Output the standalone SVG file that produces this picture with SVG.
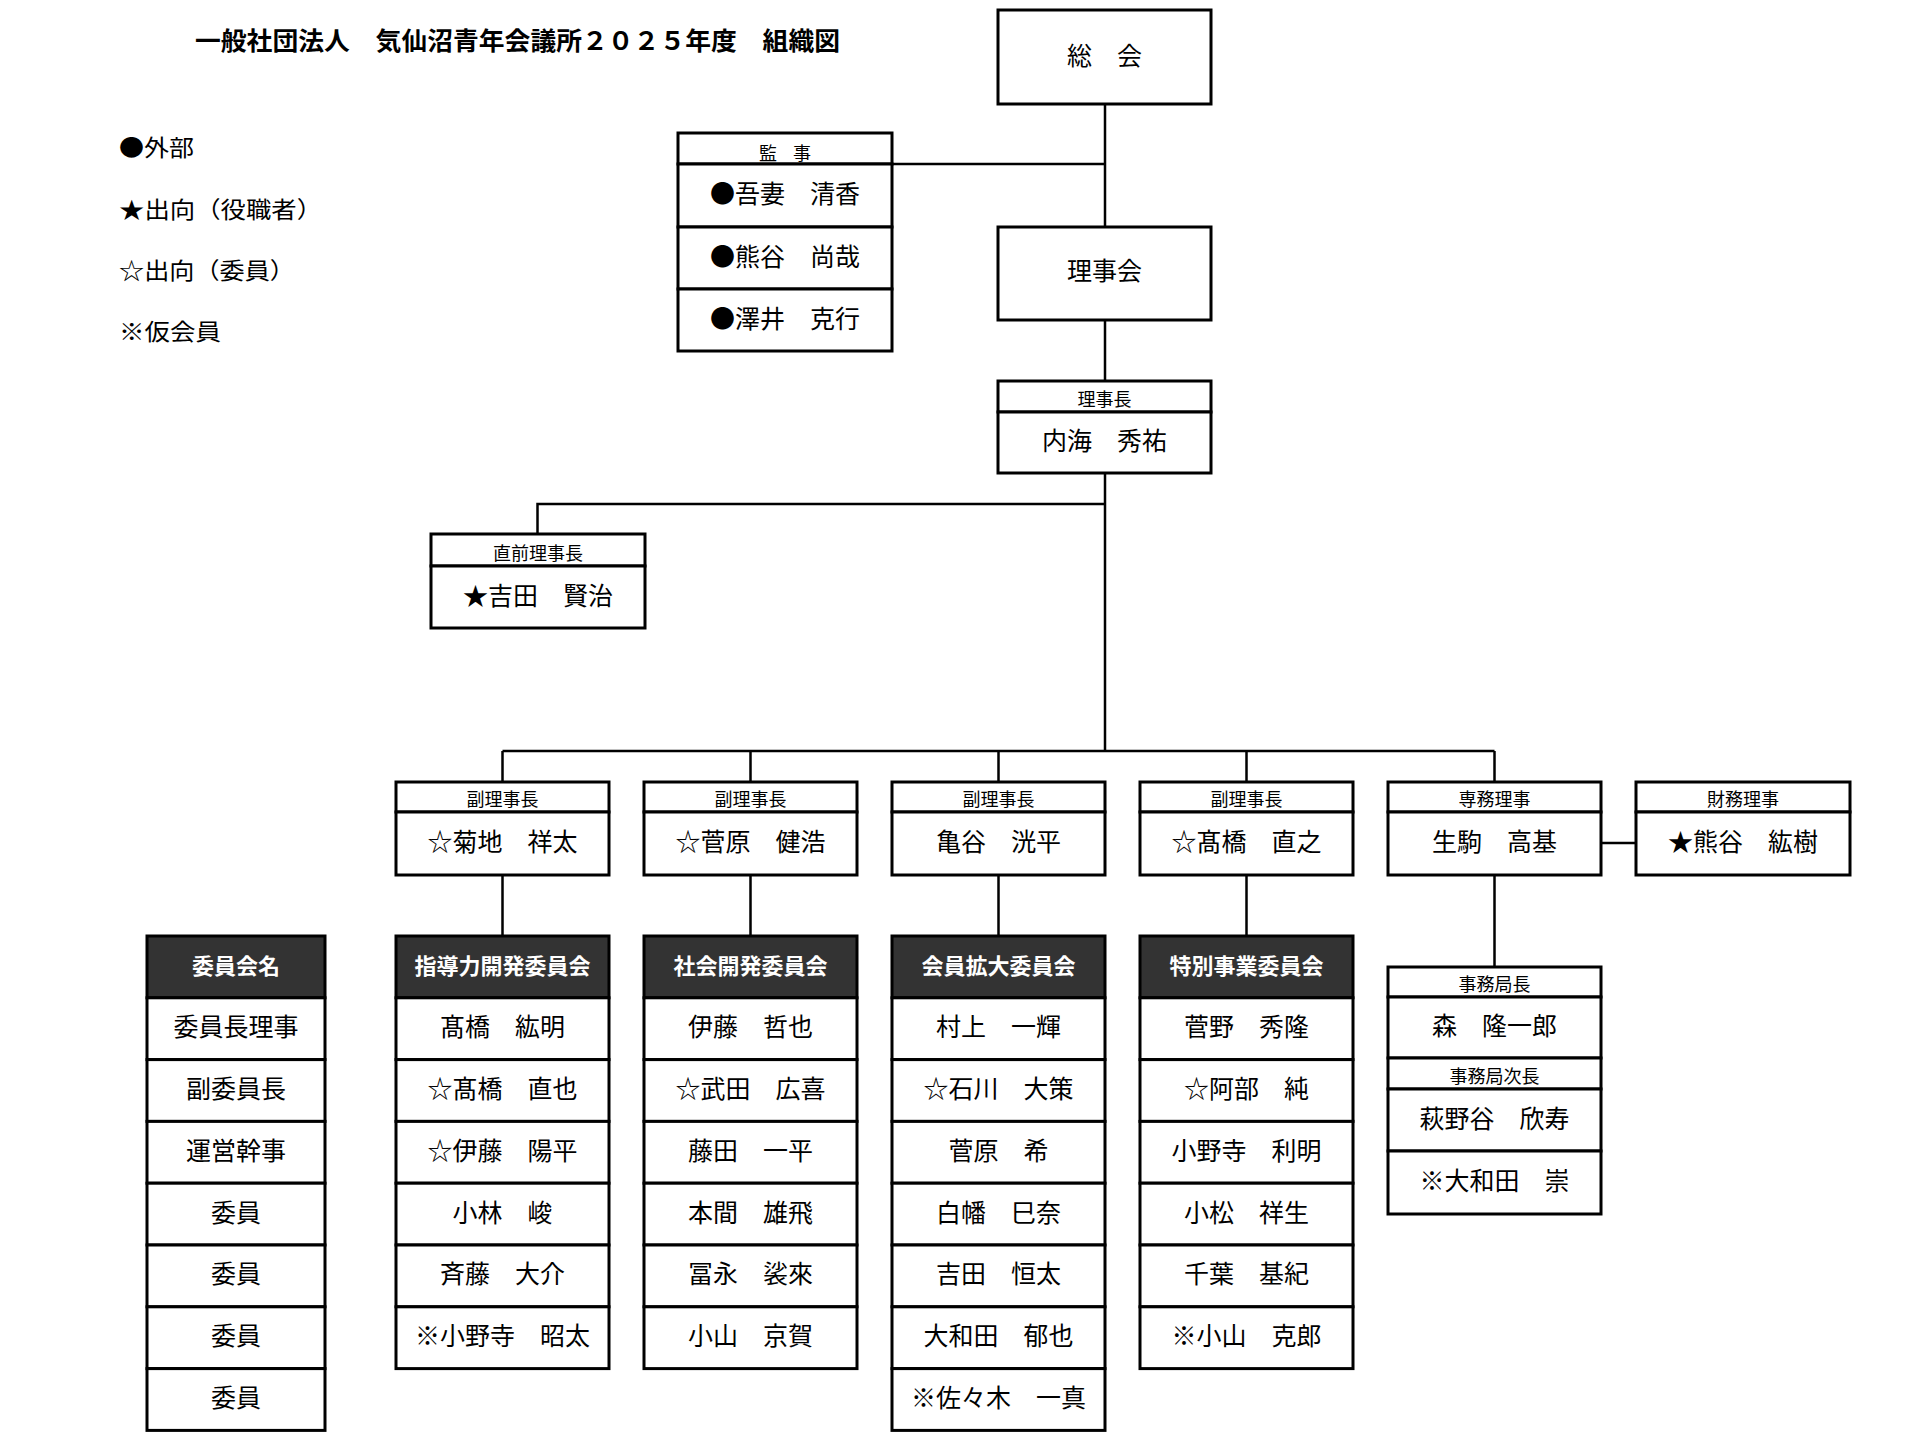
<svg xmlns="http://www.w3.org/2000/svg" width="1920" height="1440" viewBox="0 0 1920 1440">
<style>
text{font-family:"Noto Sans CJK JP","Noto Sans CJK SC",sans-serif;fill:#000}
.box{fill:#fff;stroke:#000;stroke-width:3}
.hd{fill:#333;stroke:#000;stroke-width:3}
.ln{fill:none;stroke:#000;stroke-width:2.5}
.nm{font-size:25px;text-anchor:middle;dominant-baseline:central}
.lb{font-size:18px;text-anchor:middle;dominant-baseline:central}
.ht{font-size:22px;font-weight:bold;text-anchor:middle;dominant-baseline:central;fill:#fff}
.lg{font-size:23px;dominant-baseline:central}
.tt{font-size:25px;font-weight:bold;dominant-baseline:central}
</style>
<rect width="1920" height="1440" fill="#fff"/>

<g id="title"><text class="tt" x="195" y="38.5" textLength="645" lengthAdjust="spacingAndGlyphs">一般社団法人　気仙沼青年会議所２０２５年度　組織図</text></g>
<g id="legend">
<text class="lg" x="119" y="146" textLength="75" lengthAdjust="spacingAndGlyphs">●外部</text>
<text class="lg" x="119" y="208" textLength="203" lengthAdjust="spacingAndGlyphs">★出向（役職者）</text>
<text class="lg" x="119" y="269" textLength="176" lengthAdjust="spacingAndGlyphs">☆出向（委員）</text>
<text class="lg" x="119" y="330" textLength="102" lengthAdjust="spacingAndGlyphs">※仮会員</text>
</g>

<g id="connectors">
<path class="ln" d="M1105 104V751"/>
<path class="ln" d="M892 164H1105"/>
<path class="ln" d="M1105 504H537.5V534"/>
<path class="ln" d="M502.5 751H1494.5"/>
<path class="ln" d="M502.5 751V782M750.5 751V782M998.5 751V782M1246.5 751V782M1494.5 751V782"/>
<path class="ln" d="M1601 843H1636"/>
<path class="ln" d="M502.5 875V936M750.5 875V936M998.5 875V936M1246.5 875V936M1494.5 875V967"/>
</g>

<g id="sokai"><rect class="box" x="998" y="10" width="213" height="94"/><text class="nm" x="1104.5" y="54">総　会</text></g>
<g id="kanji">
<rect class="box" x="678" y="133" width="214" height="31"/><text class="lb" x="785" y="152" textLength="52" lengthAdjust="spacing">監 事</text>
<rect class="box" x="678" y="164" width="214" height="63"/><text class="nm" x="785" y="192">●吾妻　清香</text>
<rect class="box" x="678" y="227" width="214" height="62"/><text class="nm" x="785" y="254.5">●熊谷　尚哉</text>
<rect class="box" x="678" y="289" width="214" height="62"/><text class="nm" x="785" y="316.5">●澤井　克行</text>
</g>
<g id="rijikai"><rect class="box" x="998" y="227" width="213" height="93"/><text class="nm" x="1104.5" y="269">理事会</text></g>
<g id="rijicho">
<rect class="box" x="998" y="381" width="213" height="31"/><text class="lb" x="1104.5" y="398">理事長</text>
<rect class="box" x="998" y="412" width="213" height="61"/><text class="nm" x="1104.5" y="439">内海　秀祐</text>
</g>
<g id="chokuzen">
<rect class="box" x="431" y="534" width="214" height="32"/><text class="lb" x="538" y="552">直前理事長</text>
<rect class="box" x="431" y="566" width="214" height="62"/><text class="nm" x="538" y="593.5">★吉田　賢治</text>
</g>

<g id="vp1">
<rect class="box" x="396" y="782" width="213" height="30"/><text class="lb" x="502.5" y="797.5">副理事長</text>
<rect class="box" x="396" y="812" width="213" height="63"/><text class="nm" x="502.5" y="840">☆菊地　祥太</text>
</g>
<g id="vp2">
<rect class="box" x="644" y="782" width="213" height="30"/><text class="lb" x="750.5" y="797.5">副理事長</text>
<rect class="box" x="644" y="812" width="213" height="63"/><text class="nm" x="750.5" y="840">☆菅原　健浩</text>
</g>
<g id="vp3">
<rect class="box" x="892" y="782" width="213" height="30"/><text class="lb" x="998.5" y="797.5">副理事長</text>
<rect class="box" x="892" y="812" width="213" height="63"/><text class="nm" x="998.5" y="840">亀谷　洸平</text>
</g>
<g id="vp4">
<rect class="box" x="1140" y="782" width="213" height="30"/><text class="lb" x="1246.5" y="797.5">副理事長</text>
<rect class="box" x="1140" y="812" width="213" height="63"/><text class="nm" x="1246.5" y="840">☆髙橋　直之</text>
</g>
<g id="jimuriji">
<rect class="box" x="1388" y="782" width="213" height="30"/><text class="lb" x="1494.5" y="797.5">専務理事</text>
<rect class="box" x="1388" y="812" width="213" height="63"/><text class="nm" x="1494.5" y="840">生駒　高基</text>
</g>
<g id="zaimuriji">
<rect class="box" x="1636" y="782" width="214" height="30"/><text class="lb" x="1743" y="797.5">財務理事</text>
<rect class="box" x="1636" y="812" width="214" height="63"/><text class="nm" x="1743" y="840">★熊谷　紘樹</text>
</g>

<g id="iinkaimei">
<rect class="hd" x="147" y="936" width="178" height="61.8"/><text class="ht" x="236" y="963.5">委員会名</text>
<rect class="box" x="147" y="997.8" width="178" height="61.8"/><text class="nm" x="236" y="1025.2">委員長理事</text>
<rect class="box" x="147" y="1059.6" width="178" height="61.8"/><text class="nm" x="236" y="1087">副委員長</text>
<rect class="box" x="147" y="1121.4" width="178" height="61.8"/><text class="nm" x="236" y="1148.8">運営幹事</text>
<rect class="box" x="147" y="1183.2" width="178" height="61.8"/><text class="nm" x="236" y="1210.6">委員</text>
<rect class="box" x="147" y="1245" width="178" height="61.8"/><text class="nm" x="236" y="1272.4">委員</text>
<rect class="box" x="147" y="1306.8" width="178" height="61.8"/><text class="nm" x="236" y="1334.2">委員</text>
<rect class="box" x="147" y="1368.6" width="178" height="61.8"/><text class="nm" x="236" y="1396">委員</text>
</g>

<g id="shidoryoku">
<rect class="hd" x="396" y="936" width="213" height="61.8"/><text class="ht" x="502.5" y="963.5">指導力開発委員会</text>
<rect class="box" x="396" y="997.8" width="213" height="61.8"/><text class="nm" x="502.5" y="1025.2">髙橋　紘明</text>
<rect class="box" x="396" y="1059.6" width="213" height="61.8"/><text class="nm" x="502.5" y="1087">☆髙橋　直也</text>
<rect class="box" x="396" y="1121.4" width="213" height="61.8"/><text class="nm" x="502.5" y="1148.8">☆伊藤　陽平</text>
<rect class="box" x="396" y="1183.2" width="213" height="61.8"/><text class="nm" x="502.5" y="1210.6">小林　峻</text>
<rect class="box" x="396" y="1245" width="213" height="61.8"/><text class="nm" x="502.5" y="1272.4">斉藤　大介</text>
<rect class="box" x="396" y="1306.8" width="213" height="61.8"/><text class="nm" x="502.5" y="1334.2">※小野寺　昭太</text>
</g>

<g id="shakai">
<rect class="hd" x="644" y="936" width="213" height="61.8"/><text class="ht" x="750.5" y="963.5">社会開発委員会</text>
<rect class="box" x="644" y="997.8" width="213" height="61.8"/><text class="nm" x="750.5" y="1025.2">伊藤　哲也</text>
<rect class="box" x="644" y="1059.6" width="213" height="61.8"/><text class="nm" x="750.5" y="1087">☆武田　広喜</text>
<rect class="box" x="644" y="1121.4" width="213" height="61.8"/><text class="nm" x="750.5" y="1148.8">藤田　一平</text>
<rect class="box" x="644" y="1183.2" width="213" height="61.8"/><text class="nm" x="750.5" y="1210.6">本間　雄飛</text>
<rect class="box" x="644" y="1245" width="213" height="61.8"/><text class="nm" x="750.5" y="1272.4">冨永　裟來</text>
<rect class="box" x="644" y="1306.8" width="213" height="61.8"/><text class="nm" x="750.5" y="1334.2">小山　京賀</text>
</g>

<g id="kaiinkakudai">
<rect class="hd" x="892" y="936" width="213" height="61.8"/><text class="ht" x="998.5" y="963.5">会員拡大委員会</text>
<rect class="box" x="892" y="997.8" width="213" height="61.8"/><text class="nm" x="998.5" y="1025.2">村上　一輝</text>
<rect class="box" x="892" y="1059.6" width="213" height="61.8"/><text class="nm" x="998.5" y="1087">☆石川　大策</text>
<rect class="box" x="892" y="1121.4" width="213" height="61.8"/><text class="nm" x="998.5" y="1148.8">菅原　希</text>
<rect class="box" x="892" y="1183.2" width="213" height="61.8"/><text class="nm" x="998.5" y="1210.6">白幡　巳奈</text>
<rect class="box" x="892" y="1245" width="213" height="61.8"/><text class="nm" x="998.5" y="1272.4">吉田　恒太</text>
<rect class="box" x="892" y="1306.8" width="213" height="61.8"/><text class="nm" x="998.5" y="1334.2">大和田　郁也</text>
<rect class="box" x="892" y="1368.6" width="213" height="61.8"/><text class="nm" x="998.5" y="1396">※佐々木　一真</text>
</g>

<g id="tokubetsujigyo">
<rect class="hd" x="1140" y="936" width="213" height="61.8"/><text class="ht" x="1246.5" y="963.5">特別事業委員会</text>
<rect class="box" x="1140" y="997.8" width="213" height="61.8"/><text class="nm" x="1246.5" y="1025.2">菅野　秀隆</text>
<rect class="box" x="1140" y="1059.6" width="213" height="61.8"/><text class="nm" x="1246.5" y="1087">☆阿部　純</text>
<rect class="box" x="1140" y="1121.4" width="213" height="61.8"/><text class="nm" x="1246.5" y="1148.8">小野寺　利明</text>
<rect class="box" x="1140" y="1183.2" width="213" height="61.8"/><text class="nm" x="1246.5" y="1210.6">小松　祥生</text>
<rect class="box" x="1140" y="1245" width="213" height="61.8"/><text class="nm" x="1246.5" y="1272.4">千葉　基紀</text>
<rect class="box" x="1140" y="1306.8" width="213" height="61.8"/><text class="nm" x="1246.5" y="1334.2">※小山　克郎</text>
</g>

<g id="jimukyoku">
<rect class="box" x="1388" y="967" width="213" height="30"/><text class="lb" x="1494.5" y="983">事務局長</text>
<rect class="box" x="1388" y="997" width="213" height="61"/><text class="nm" x="1494.5" y="1024">森　隆一郎</text>
<rect class="box" x="1388" y="1058" width="213" height="31"/><text class="lb" x="1494.5" y="1074.5">事務局次長</text>
<rect class="box" x="1388" y="1089" width="213" height="62"/><text class="nm" x="1494.5" y="1116.5">萩野谷　欣寿</text>
<rect class="box" x="1388" y="1151" width="213" height="63"/><text class="nm" x="1494.5" y="1179">※大和田　崇</text>
</g>
</svg>
